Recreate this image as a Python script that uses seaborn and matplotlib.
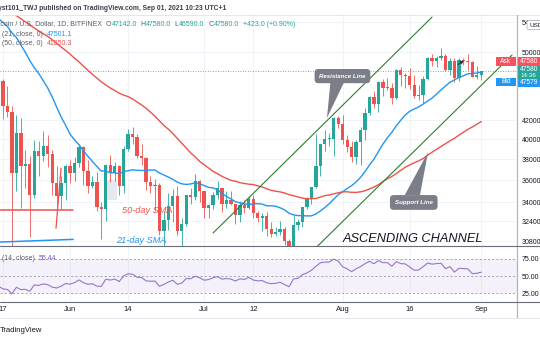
import numpy as np
import pandas as pd
import matplotlib
matplotlib.use("Agg")
import matplotlib.pyplot as plt
import seaborn as sns
from matplotlib.patches import Rectangle, Polygon, FancyBboxPatch
from matplotlib.ticker import NullLocator

# ---------------- data ----------------
start_date = "2021-05-17"
opens = [46430, 43540, 42900, 36700, 40600, 37300, 37500, 34700, 38800, 38300, 39300, 38500, 35700, 34600, 35700,
         37300, 36700, 37600, 39200, 36900, 35500, 35800, 33600, 33400, 37400, 36700, 37300, 35500, 39000, 40500,
         40200, 38300, 38100, 35800, 35500, 35600, 31600, 32500, 33700, 34600, 31600, 32200, 34700, 34500, 35900,
         35000, 33500, 33800, 34700, 35300, 33900, 34200, 33900, 32900, 33800, 33500, 34300, 33100, 32700, 32800,
         31800, 31400, 31500, 31800, 30800, 29800, 32100, 32300, 33600, 34300, 35400, 37300, 39500, 40000, 40000,
         42200, 41600, 39900, 39200, 38200, 39700, 40900, 42800, 44600, 43800, 46300, 45600, 45600, 44400, 47800,
         47100, 47000, 45900, 44700, 44800, 46700, 49300, 48900, 49300, 49500, 47700, 48900, 46800, 49000, 48900,
         48800, 46900, 47142]
highs = [46630, 45820, 43550, 42530, 42200, 38850, 38300, 39900, 39800, 40800, 40400, 38900, 37300, 36400, 37500,
         37900, 38200, 39500, 39300, 37900, 36400, 36800, 34000, 37500, 38400, 37700, 37400, 39300, 41000, 41300,
         40500, 39500, 38200, 36400, 36100, 35700, 33300, 34800, 35200, 35500, 32700, 34700, 35300, 36600, 36000,
         35000, 33900, 34900, 35900, 35300, 35000, 35000, 33900, 34100, 34200, 34600, 34700, 33300, 33100, 33200,
         32300, 31900, 32400, 31900, 31000, 32800, 32600, 33600, 34500, 35400, 40500, 39500, 40900, 40600, 42300,
         42400, 42600, 40400, 39800, 39900, 41300, 43300, 44700, 45300, 46400, 46700, 46800, 46200, 47900, 48100,
         47400, 48000, 47100, 46000, 47000, 49400, 49800, 49500, 50500, 49800, 49300, 49300, 49200, 49300, 49700,
         48900, 48200, 47580]
lows = [42070, 42300, 30000, 35000, 33500, 35300, 31100, 34400, 36400, 37800, 37200, 34700, 33600, 33400, 34200,
        35700, 35900, 37200, 35600, 34800, 35300, 33300, 31000, 32400, 35800, 35900, 34700, 34800, 38800, 39500,
        38100, 37400, 35100, 34800, 33300, 31300, 28800, 31700, 32300, 31300, 30200, 32000, 33900, 34200, 34000,
        32700, 32700, 33400, 34300, 33200, 33500, 33800, 32200, 32300, 33100, 33400, 32700, 32300, 31600, 31200,
        31100, 31200, 31300, 30500, 29300, 29500, 31700, 31900, 33400, 33900, 35300, 36400, 38800, 39300, 38300,
        41100, 39500, 38700, 37700, 37500, 37400, 39900, 42500, 43300, 42900, 44700, 45400, 43800, 44300, 45800,
        45600, 45500, 44400, 44200, 43900, 46600, 48300, 48100, 49000, 47600, 47100, 46300, 46400, 48400, 47800,
        46900, 46700, 46590]
closes = [43540, 42900, 36700, 40600, 37300, 37500, 34700, 38800, 38300, 39300, 38500, 35700, 34600, 35700, 37300,
          36700, 37600, 39200, 36900, 35500, 35800, 33600, 33400, 37400, 36700, 37300, 35500, 39000, 40500, 40200,
          38300, 38100, 35800, 35500, 35600, 31600, 32500, 33700, 34600, 31600, 32200, 34700, 34500, 35900, 35000,
          33500, 33800, 34700, 35300, 33900, 34200, 33900, 32900, 33800, 33500, 34300, 33100, 32700, 32800, 31800,
          31400, 31500, 31800, 30800, 29800, 32100, 32300, 33600, 34300, 35400, 37300, 39500, 40000, 40000, 42200,
          41600, 39900, 39200, 38200, 39700, 40900, 42800, 44600, 43800, 46300, 45600, 45600, 44400, 47800, 47100,
          47000, 45900, 44700, 44800, 46700, 49300, 48900, 49300, 49500, 47700, 48900, 46800, 49000, 48900, 48800,
          46900, 47100, 47580]
# closes before the visible window (feed the moving averages and RSI)
hist_start = "2021-03-28"
hist_closes = [55800, 57600, 58800, 58800, 58700, 59000, 57100, 58200, 59100, 58000, 56000, 58100, 58100, 59800,
               59800, 59900, 63500, 62900, 63200, 61400, 60000, 56200, 55700, 56500, 53800, 51700, 51200, 50100,
               49100, 54000, 55000, 54800, 53600, 57800, 57800, 56600, 57200, 53200, 57500, 56400, 57400, 58900,
               58300, 55900, 56800, 49500, 49700, 49900, 46800, 46400]

tick_dates = ["2021-05-17", "2021-06-01", "2021-06-14", "2021-07-01", "2021-07-12", "2021-08-01", "2021-08-16", "2021-09-01"]
tick_labels = ["17", "Jun", "14", "Jul", "12", "Aug", "16", "Sep"]
price_ticks = [30800, 32400, 34000, 36000, 38000, 40000, 42000, 50000, 54000]
rsi_ticks = [25, 50, 75]

# ---------------- derived series ----------------
dates = pd.date_range(start_date, periods=len(closes), freq="D")
all_idx = pd.date_range(hist_start, periods=len(hist_closes) + len(closes), freq="D")
all_close = pd.Series(hist_closes + closes, index=all_idx, dtype=float)
sma21 = all_close.rolling(21).mean()
sma50 = all_close.rolling(50).mean()
delta = all_close.diff()
gain = delta.clip(lower=0)
loss = -delta.clip(upper=0)
ag = gain.ewm(alpha=1 / 14, adjust=False).mean()
al = loss.ewm(alpha=1 / 14, adjust=False).mean()
rsi = 100 - 100 / (1 + ag / al)

t0 = dates[0]
def day(ts):
    return (pd.Timestamp(ts) - t0).days

all_day = np.array([day(t) for t in all_idx])
vis = all_day >= -2
xd = np.array([day(t) for t in dates])
o = np.array(opens, float); h = np.array(highs, float)
l = np.array(lows, float); c = np.array(closes, float)

# ---------------- styling ----------------
sns.set_theme(style="white")
plt.rcParams["font.family"] = ["Liberation Sans", "DejaVu Sans"]

UP, DOWN = "#26a69a", "#ef5350"
BLUE, RED, PURPLE = "#2196f3", "#f0514a", "#9575cd"
GRID = "#eef1f6"
TXT = "#131722"

W, H = 540, 340
fig = plt.figure(figsize=(W / 100, H / 100), dpi=100)
fig.patch.set_facecolor("white")

def rect(x0, y0, x1, y1):
    return [x0 / W, 1 - y1 / H, (x1 - x0) / W, (y1 - y0) / H]

ax = fig.add_axes(rect(0, 15, 517, 246))
rx = fig.add_axes(rect(0, 246, 517, 302))
ov = fig.add_axes([0, 0, 1, 1], zorder=10)
ov.set_xlim(0, W); ov.set_ylim(H, 0); ov.axis("off"); ov.patch.set_visible(False)

XL = (-0.67, 115.0)

# ---- main price pane ----
ax.set_yscale("log")
ax.set_xlim(*XL)
ax.set_ylim(30410, 54980)
cols = np.where(c >= o, UP, DOWN)
ax.vlines(xd, l, h, colors=cols, lw=0.7, alpha=0.85, zorder=2)
ax.bar(xd, np.maximum(np.abs(c - o), 60), bottom=np.minimum(o, c), width=0.74,
       color=cols, linewidth=0, zorder=3)
sns.lineplot(x=all_day[vis], y=sma21.values[vis], ax=ax, color=BLUE, lw=1.0, zorder=4)
sns.lineplot(x=all_day[vis], y=sma50.values[vis], ax=ax, color=RED, lw=1.0, zorder=4)
ax.axhline(c[-1], color=UP, lw=0.6, ls=(0, (1, 2)), zorder=1)

ax.yaxis.tick_right()
ax.set_yticks(price_ticks)
ax.set_yticklabels([str(p) for p in price_ticks])
ax.yaxis.set_minor_locator(NullLocator())
ax.set_xticks([day(t) for t in tick_dates])
ax.tick_params(axis="y", length=0, pad=3.5, labelsize=5, labelcolor=TXT)
ax.tick_params(axis="x", length=0, labelbottom=False)
ax.grid(True, color=GRID, lw=0.6)
ax.set_xlabel(""); ax.set_ylabel("")
for s in ax.spines.values():
    s.set_visible(False)

# drawings on the price pane
ax.plot([day("2021-07-03"), day("2021-08-21")], [31440, 54690], color="#2e7d32", lw=0.8, zorder=5)
ax.plot([day("2021-07-26") - 0.5, day("2021-09-08") - 0.1], [30100, 49620], color="#2e7d32", lw=0.8, zorder=5)
ax.plot([XL[0], day("2021-06-01") + 0.7], [33350, 33350], color=RED, lw=1.1, zorder=5)
ax.plot([XL[0], day("2021-06-01") + 0.7], [30720, 30930], color=BLUE, lw=1.1, zorder=5)
ax.plot([11.86, 12.98], [31830, 37130], color=RED, lw=0.9, zorder=5)
ax.add_patch(Rectangle((23.3, 34230), 2.2, 1790, facecolor="#dfe3ec", edgecolor="none", alpha=0.8, zorder=1))
ax.text(26.6, 33350, "50-day SMA", color=RED, fontsize=6.6, style="italic", va="center", ha="left", zorder=6)
ax.text(25.3, 30860, "21-day SMA", color=BLUE, fontsize=6.6, style="italic", va="center", ha="left", zorder=6)

GREYBOX = "#7b7e88"
ax.add_patch(Polygon([(73.3, 46490), (76.5, 46490), (72.48, 42216)], closed=True,
                     facecolor=GREYBOX, edgecolor="none", zorder=6))
ax.text(75.95, 47010, "Resistance Line", color="white", fontsize=4.4, weight="bold", style="italic",
        ha="center", va="center", zorder=7,
        bbox=dict(boxstyle="round,pad=0.75,rounding_size=0.6", fc=GREYBOX, ec="none"))
ax.add_patch(Polygon([(89.9, 34660), (93.3, 34660), (95.1, 38690)], closed=True,
                     facecolor=GREYBOX, edgecolor="none", zorder=6))
ax.text(91.9, 34000, "Support Line", color="white", fontsize=4.4, weight="bold", style="italic",
        ha="center", va="center", zorder=7,
        bbox=dict(boxstyle="round,pad=0.8,rounding_size=0.6", fc=GREYBOX, ec="none"))
ax.text(91.8, 30930, "ASCENDING CHANNEL", color=TXT, fontsize=9.2, style="italic",
        ha="center", va="center", zorder=7)
ax.annotate("", xy=(103.6, 49110), xytext=(101.3, 48230),
            arrowprops=dict(arrowstyle="->", color="#222", lw=0.7, mutation_scale=5), zorder=7)

# ---- RSI pane ----
rx.set_xlim(*XL)
rx.set_ylim(11.8, 94.1)
rx.axhspan(25, 75, color="#7e57c2", alpha=0.08, lw=0)
for v in rsi_ticks:
    rx.axhline(v, color="#9598a1", lw=0.6, ls=(0, (2.5, 2.5)))
sns.lineplot(x=all_day[vis], y=rsi.values[vis], ax=rx, color=PURPLE, lw=0.8)
rx.yaxis.tick_right()
rx.set_yticks(rsi_ticks)
rx.set_yticklabels([f"{v:.2f}" for v in rsi_ticks])
rx.set_xticks([day(t) for t in tick_dates])
rx.set_xticklabels(tick_labels)
rx.tick_params(axis="y", length=0, pad=3.5, labelsize=5, labelcolor=TXT)
rx.tick_params(axis="x", length=0, pad=3.2, labelsize=5.5, labelcolor=TXT)
rx.grid(True, axis="x", color=GRID, lw=0.6)
rx.set_xlabel(""); rx.set_ylabel("")
for s in rx.spines.values():
    s.set_visible(False)

# ---- chrome / overlay ----
ov.plot([0, W], [15, 15], color="#e0e3eb", lw=0.6)
ov.plot([517, 517], [15, 318], color="#b2b5be", lw=0.9)
ov.plot([0, W], [246, 246], color="#6a6d78", lw=0.8)
ov.plot([0, W], [302, 302], color="#6a6d78", lw=0.8)
ov.plot([0, W], [318, 318], color="#e0e3eb", lw=0.6)

ov.text(-2, 8, "yst101_TWJ published on TradingView.com, Sep 01, 2021 10:23 UTC+1",
        fontsize=4.9, weight="bold", color="#3b3f4a", va="center", ha="left")
ov.text(0, 330, "TradingView", fontsize=5.5, color=TXT, va="center", ha="left")

def chain(x, y, parts, fs=5.0):
    prev = ov.text(x, y, parts[0][0], color=parts[0][1], fontsize=fs, va="bottom", ha="left")
    for s, col in parts[1:]:
        prev = ov.annotate(s, xy=(1, 0), xycoords=prev, color=col, fontsize=fs, va="bottom", ha="left")
    return prev

GR = "#5d606b"
chain(-8, 27.5, [("Bitcoin / U.S. Dollar, 1D, BITFINEX  ", GR), ("O", GR), ("47142.0", UP), ("  H", GR),
                 ("47580.0", UP), ("  L", GR), ("46590.0", UP), ("  C", GR), ("47580.0", UP),
                 ("  +423.0 (+0.90%)", UP)])
chain(2, 37.5, [("(21, close, 0)  ", GR), ("47501.1", BLUE)])
chain(2, 47.0, [("(50, close, 0)  ", GR), ("41850.3", RED)])
chain(2, 262.5, [("(14, close)  ", GR), ("55.44", "#7e57c2")])

# right-hand price labels
ASK = "#f7525f"; BID = "#2196f3"
ov.add_patch(Rectangle((496, 57), 20, 8.5, fc=ASK, ec="none"))
ov.text(506, 61.3, "Ask", color="white", fontsize=4.8, ha="center", va="center")
ov.add_patch(Rectangle((517.5, 57), 23, 8.5, fc=ASK, ec="none"))
ov.text(520, 61.3, "47580", color="white", fontsize=4.8, ha="left", va="center")
ov.add_patch(Rectangle((517.5, 65.5), 23, 13, fc=UP, ec="none"))
ov.text(520, 69.6, "47580", color="white", fontsize=4.8, ha="left", va="center")
ov.text(520, 75.8, "14:36", color="white", fontsize=4.5, ha="left", va="center")
ov.add_patch(Rectangle((496, 77.5), 20, 8.5, fc=BID, ec="none"))
ov.text(506, 81.8, "Bid", color="white", fontsize=4.8, ha="center", va="center")
ov.add_patch(Rectangle((517.5, 78.5), 23, 8, fc=BID, ec="none"))
ov.text(520, 82.5, "47579", color="white", fontsize=4.8, ha="left", va="center")
ov.add_patch(FancyBboxPatch((527, 20.5), 16, 9, boxstyle="round,pad=0,rounding_size=1.5",
                            fc="white", ec="#b2b5be", lw=0.6))
ov.text(529, 25.2, "USD", color=TXT, fontsize=4.6, ha="left", va="center")

fig.savefig("out.png", dpi=100)
